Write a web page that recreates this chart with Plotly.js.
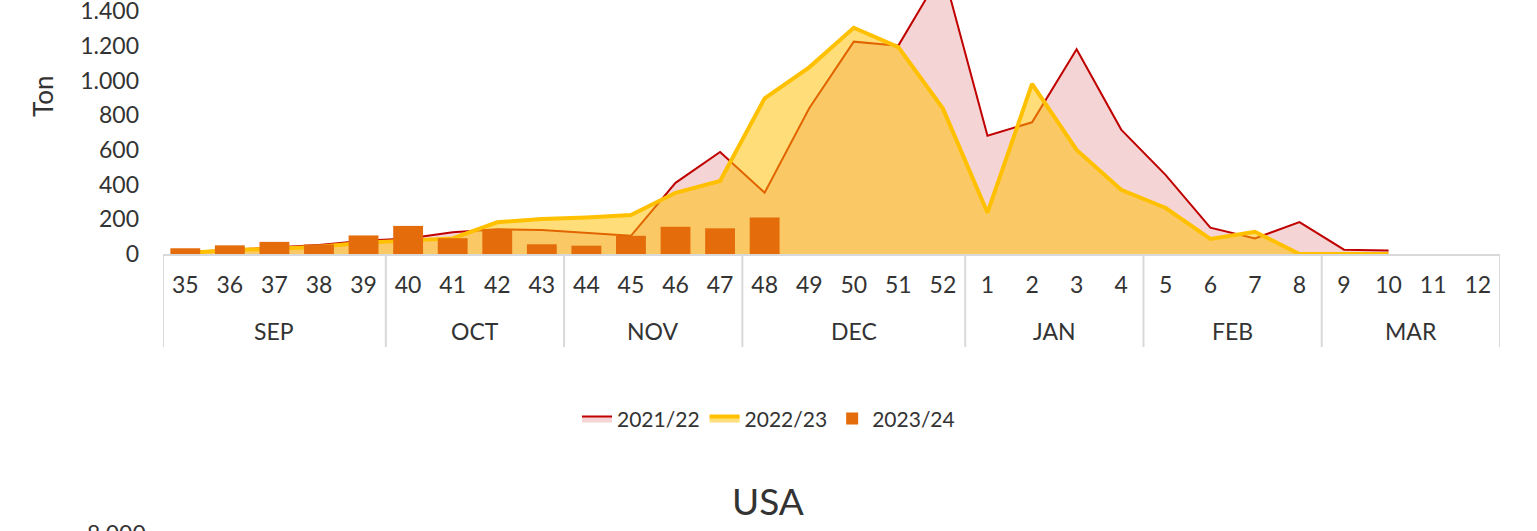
<!DOCTYPE html>
<html>
<head>
<meta charset="utf-8">
<script src="https://cdn.plot.ly/plotly-3.0.1.min.js"></script>
<style>
html,body{margin:0;padding:0;background:#fff;}
#chart{width:1537px;height:531px;}
</style>
</head>
<body>
<div id="chart"></div>
<script>
const weeks = ['35','36','37','38','39','40','41','42','43','44','45','46','47','48','49','50','51','52','1','2','3','4','5','6','7','8','9','10','11','12'];
const months = ['SEP','SEP','SEP','SEP','SEP','OCT','OCT','OCT','OCT','NOV','NOV','NOV','NOV','DEC','DEC','DEC','DEC','DEC','JAN','JAN','JAN','JAN','FEB','FEB','FEB','FEB','MAR','MAR','MAR','MAR'];
const season2122 = [10,25,38,52,77,90,125,142,138,123,105,410,588,353,840,1224,1201,1635,682,759,1180,717,455,152,90,184,25,20,null,null];
const season2223 = [5,23,30,42,65,80,90,183,202,211,225,353,421,897,1076,1304,1192,838,238,980,600,370,265,87,128,0,0,0,null,null];
const season2324 = [33,50,70,55,107,162,91,142,56,48,105,157,148,210,null,null,null,null,null,null,null,null,null,null,null,null,null,null,null,null];
const yTicks = [0,200,400,600,800,1000,1200,1400];
const seriesNames = ['2021/22','2022/23','2023/24'];

const C_RED = '#C00000', C_PINK = 'rgba(192,0,0,0.17)';
const C_YEL = '#FFC000', C_YELF = 'rgba(255,192,0,0.52)';
const C_ORG = '#E46C0A';
const C_TXT = '#333333', C_AX = '#D9D9D9';

const traces = [
  {type:'scatter', mode:'lines', name:seriesNames[0], x:weeks, y:season2122,
   fill:'tozeroy', fillcolor:C_PINK, line:{color:C_RED, width:2}, xaxis:'x', yaxis:'y'},
  {type:'scatter', mode:'lines', name:seriesNames[1], x:weeks, y:season2223,
   fill:'tozeroy', fillcolor:C_YELF, line:{color:C_YEL, width:4}, xaxis:'x', yaxis:'y'},
  {type:'bar', name:seriesNames[2], x:weeks, y:season2324,
   marker:{color:C_ORG, line:{width:0}}, xaxis:'x2', yaxis:'y2'}
];

// month group labels and dividers derived from the months array
const groups = [];
months.forEach((m, i) => {
  if (!groups.length || groups[groups.length-1].name !== m) groups.push({name:m, start:i, end:i});
  else groups[groups.length-1].end = i;
});
const plotH = 254;
const monthY = -(331-254)/plotH;
const divY = -(347-254)/plotH;
const annotations = groups.map(g => ({
  text:g.name, xref:'x', yref:'paper', x:(g.start+g.end)/2, y:monthY,
  xanchor:'center', yanchor:'middle', showarrow:false, font:{size:23, color:C_TXT}
}));
const bounds = groups.map(g => g.start - 0.5).concat([groups[groups.length-1].end + 0.5]);
const shapes = bounds.map(b => ({
  type:'line', xref:'x', yref:'paper', x0:b, x1:b, y0:0, y1:divY,
  line:{color:C_AX, width:2}, layer:'above'
}));

annotations.push(
  {text:'Ton', textangle:-90, xref:'paper', yref:'paper', x:(43-163)/1337, y:(254-97)/254,
   xanchor:'center', yanchor:'middle', showarrow:false, font:{size:26, color:C_TXT}},
  {text:'USA', xref:'paper', yref:'paper', x:(768-163)/1337, y:(254-500)/254,
   xanchor:'center', yanchor:'middle', showarrow:false, font:{size:37, color:C_TXT}},
  {text:'8.000', xref:'paper', yref:'paper', x:(148-163)/1337, y:(254-533)/254,
   xanchor:'right', yanchor:'middle', showarrow:false, font:{size:23, color:C_TXT}}
);

const yMax = 1464;
const xRange = [-0.5, weeks.length - 0.5];
const layout = {
  width:1537, height:531,
  margin:{l:163, r:37, t:0, b:277, pad:0},
  paper_bgcolor:'#ffffff', plot_bgcolor:'rgba(0,0,0,0)',
  separators:',.',
  font:{family:'Lato, "Open Sans", sans-serif', size:23, color:C_TXT},
  showlegend:true,
  legend:{orientation:'h', xref:'container', yref:'container', x:0.5, xanchor:'center', y:0.211, yanchor:'middle',
          font:{size:21, color:C_TXT}, traceorder:'normal', itemwidth:30},
  bargap:0.33,
  hovermode:false,
  xaxis:{type:'category', categoryorder:'array', categoryarray:weeks, range:xRange,
         showline:true, linecolor:C_AX, linewidth:2, ticks:'', showgrid:false, zeroline:false,
         ticklabelstandoff:9, tickfont:{size:23, color:C_TXT}},
  yaxis:{range:[0,yMax], tickvals:yTicks, tickformat:',d', showgrid:false, zeroline:false, showline:false,
         ticks:'', ticklabelstandoff:23, ticklabeloverflow:'allow', tickfont:{size:23, color:C_TXT}},
  xaxis2:{type:'category', categoryorder:'array', categoryarray:weeks, range:xRange, overlaying:'x', visible:false},
  yaxis2:{overlaying:'y', range:[0,yMax], visible:false},
  annotations:annotations,
  shapes:shapes
};

Plotly.newPlot('chart', traces, layout, {displayModeBar:false, staticPlot:true});
</script>
</body>
</html>
